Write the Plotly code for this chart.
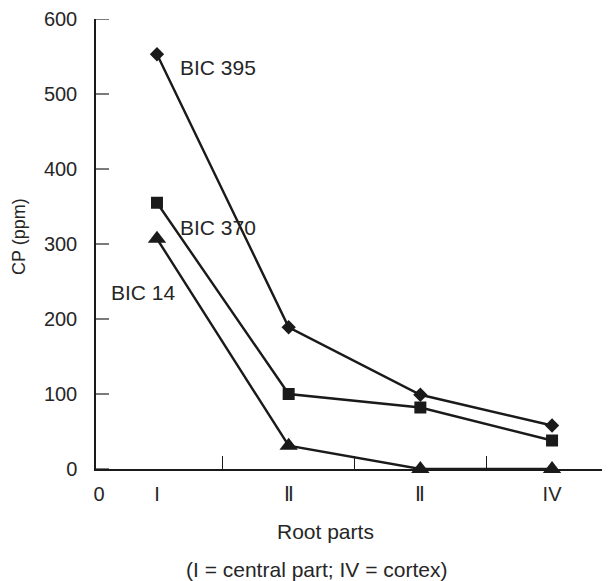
import plotly.graph_objects as go

categories = [1, 2, 3, 4]
bic395 = [553, 189, 99, 58]
bic370 = [355, 100, 82, 38]
bic14 = [307, 31, 0, 0]

tick_positions = [0.56, 1, 2, 3, 4]
tick_labels = ["0", "I", "Ⅱ", "Ⅱ", "IV"]
divider_positions = [1.5, 2.5, 3.5]
y_ticks = [0, 100, 200, 300, 400, 500, 600]

FONT = "Liberation Sans, Arial, sans-serif"
INK = "#1a1a1a"
TXT = "#262626"
PLOT_W = 514  # plot area width in px

fig = go.Figure()
series = [
    ("BIC 395", bic395, "diamond", 11),
    ("BIC 370", bic370, "square", 12),
    ("BIC 14", bic14, "triangle-up", 16),
]
for name, vals, sym, size in series:
    fig.add_trace(go.Scatter(
        x=categories, y=vals, mode="lines+markers", name=name,
        line=dict(color=INK, width=2.4),
        marker=dict(symbol=sym, size=size, color=INK, line=dict(width=0)),
        showlegend=False, cliponaxis=False,
    ))

# y-axis tick marks (inside), placed through the y scale
for yv in y_ticks:
    fig.add_shape(type="line", xref="paper", yref="y", x0=0, x1=13 / PLOT_W,
                  y0=yv, y1=yv, line=dict(color="#333", width=1.3), layer="above")

labels = [("BIC 395", 1.162, 535), ("BIC 370", 1.162, 322), ("BIC 14", 0.638, 235)]
for txt, lx, ly in labels:
    fig.add_annotation(x=lx, y=ly, text=txt, showarrow=False, xanchor="left",
                       yanchor="middle", font=dict(family=FONT, size=21, color=TXT))

fig.add_annotation(x=(325.5 - 8 - 88) / PLOT_W, xref="paper", y=-0.1394, yref="paper",
                   text="Root parts", showarrow=False, yanchor="middle",
                   font=dict(family=FONT, size=21, color=TXT))
fig.add_annotation(x=(316 - 8 - 88) / PLOT_W, xref="paper", y=-0.2235, yref="paper",
                   text="(I = central part; IV = cortex)", showarrow=False,
                   yanchor="middle", font=dict(family=FONT, size=21, color=TXT))
fig.add_annotation(x=(19 - 8 - 88) / PLOT_W, xref="paper", y=(461 - 228) / 452,
                   yref="paper", text="CP (ppm)", showarrow=False, textangle=-90,
                   xanchor="center", yanchor="middle",
                   font=dict(family=FONT, size=18, color=TXT))

fig.update_layout(
    width=602, height=573,
    margin=dict(l=88, r=0, t=9, b=112),
    paper_bgcolor="white", plot_bgcolor="white",
    font=dict(family=FONT, size=20, color=TXT),
    xaxis=dict(
        range=[0.537, 4.44], showgrid=False, zeroline=False,
        showline=True, linecolor=INK, linewidth=1.8,
        tickmode="array", tickvals=tick_positions, ticktext=tick_labels,
        ticks="", ticklabelstandoff=6,
        tickfont=dict(family=FONT, size=20, color=TXT),
        minor=dict(tickmode="array", tickvals=divider_positions, ticks="inside",
                   ticklen=13, tickcolor=INK, tickwidth=1.3, showgrid=False),
    ),
    yaxis=dict(
        range=[0, 600], showgrid=False, zeroline=False,
        showline=True, linecolor=INK, linewidth=1.5,
        tickmode="array", tickvals=y_ticks, ticks="", ticklabelstandoff=13,
        ticklabeloverflow="allow",
        tickfont=dict(family=FONT, size=20, color=TXT),
    ),
)

fig.write_html("out.html")
